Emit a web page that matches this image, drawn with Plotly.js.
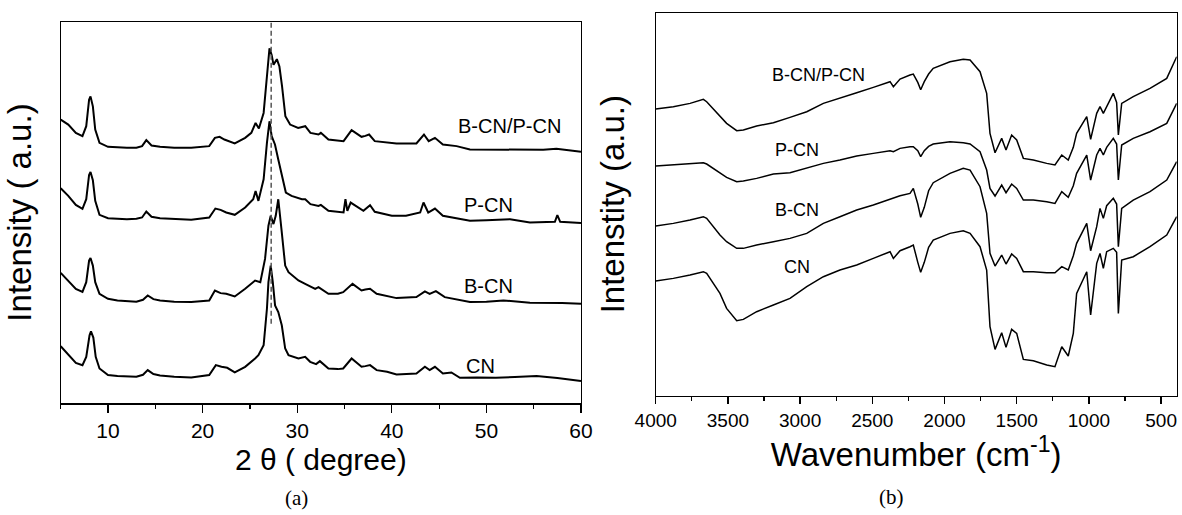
<!DOCTYPE html>
<html>
<head>
<meta charset="utf-8">
<script src="https://cdn.plot.ly/plotly-3.0.1.min.js"></script>
<style>html,body{margin:0;padding:0;background:#fff}#chart{width:1182px;height:515px}</style>
</head>
<body>
<div id="chart"></div>
<script>
// ---------- (a) XRD data: 2θ (degree) vs intensity (a.u., stacked) ----------
var xrdBP_x = [5,5.8,6.6,7.3,7.7,8.0,8.15,8.4,8.65,9.1,10,11,12,13,13.6,14.05,14.6,15.5,17,18.8,20.7,21.3,21.8,22.3,23.4,24.5,25.15,25.6,25.95,26.45,26.8,27.07,27.3,27.5,27.85,28.12,28.4,28.75,29.25,30.1,30.85,31.4,32.25,32.5,33.3,34.2,34.9,35.75,36.8,37.2,37.6,38.2,39.5,40.5,42.6,43.4,43.9,44.56,45.4,46.85,48.26,50,52,54.6,56,57.4,60];
var xrdBP_y = [855,840,815,805,835,915,925,895,825,785,773,771,770,770,775,793,777,773,770,770,775,800,803,795,783,800,815,845,828,875,975,1070,1050,1020,1037,1015,955,865,840,830,835,815,810,815,795,792,790,823,803,806,810,790,785,783,783,810,790,800,780,775,765,765,766,765,764,767,758];

var xrdP_x = [5,5.8,6.6,7.3,7.7,8.0,8.15,8.4,8.65,9.1,10,11,12,13,13.6,14.05,14.6,15.5,17,18.8,20.7,21.35,21.9,22.5,23.4,24.5,25.35,25.6,25.9,26.45,26.8,27.07,27.3,27.65,28.0,28.4,28.8,29.4,30.5,30.85,31.4,32.25,32.5,33.3,34.2,34.9,35.1,35.3,35.65,36.3,37.0,37.7,38.2,40,41.5,43.0,43.35,43.85,44.56,45.4,48.26,50,52.5,54.6,56,57.24,57.5,57.8,60];
var xrdP_y = [648,625,598,586,615,688,697,672,610,568,558,556,555,556,560,578,562,558,555,553,560,587,583,575,568,590,615,640,610,675,785,850,805,780,735,685,635,625,615,615,600,595,598,580,578,575,615,580,605,593,580,597,577,565,565,575,605,575,587,565,550,552,555,545,547,547,567,547,543];

var xrdB_x = [5,5.8,6.6,7.3,7.7,8.0,8.15,8.4,8.65,9.1,10,11,12,13,13.7,14.2,14.8,15.5,17,18.8,20.7,21.3,21.9,22.5,23.4,24.5,25.55,26.1,26.6,26.96,27.2,27.49,27.73,28.0,28.37,28.73,29.08,30.13,30.84,31.9,32.25,33.3,34.3,34.86,35.85,36.8,37.2,37.7,38.4,39.5,40.5,42.6,43.5,44.0,44.66,45.6,48.26,50,51.8,54.6,56,58,60];
var xrdB_y = [393,370,345,336,365,430,438,415,365,330,315,310,307,306,312,325,314,310,306,305,310,340,332,330,322,345,370,365,435,535,565,540,565,615,515,415,395,370,360,345,350,330,330,335,360,340,343,345,330,322,317,320,337,330,338,320,305,306,310,303,303,302,300];

var xrdCN_x = [5,5.8,6.6,7.3,7.7,8.05,8.2,8.45,8.7,9.1,10,11,12,13,13.7,14.2,14.8,15.5,17,18.8,20.7,21.4,22.0,22.6,23.4,24.5,25.55,25.9,26.45,26.8,26.96,27.2,27.42,27.66,28.0,28.37,28.73,29.08,30.13,30.84,31.37,32.0,32.4,33.3,34.3,34.86,35.75,36.8,37.2,37.7,38.4,39.5,40.5,42.6,43.5,44.0,44.56,45.4,46.3,47.2,49,51,53,55.3,57.5,60];
var xrdCN_y = [172,148,122,115,140,205,217,198,140,105,85,82,80,80,86,100,88,84,80,78,85,115,110,107,93,110,135,145,175,285,365,415,365,295,275,235,165,145,135,140,125,118,127,105,103,105,135,110,112,115,100,95,87,90,110,100,110,90,93,77,78,77,79,82,76,67];

var xrdLabels = ["B-CN/P-CN", "P-CN", "B-CN", "CN"];
var xrdLabelX = [52.4, 50.27, 50.2, 49.4];
var xrdLabelY = [837, 598, 355, 113];
var xrdGuideX = 27.25;          // dashed reference line position
var xrdGuideY = [240, 1150];    // from / to
var xrdTicks = [10, 20, 30, 40, 50, 60];

// ---------- (b) FTIR data: wavenumber (cm-1) vs intensity (a.u., stacked) ----------
var ftirW = [4000,3878,3762,3670,3647,3555,3509,3439,3393,3301,3185,3070,2954,2839,2724,2608,2493,2377,2354,2308,2239,2216,2185,2165,2140,2110,2078,1962,1870,1823,1754,1708,1685,1650,1604,1574,1535,1500,1454,1385,1292,1235,1188,1143,1108,1085,1015,988,946,923,900,877,831,808,796,773,693,577,461,392];
var ftirBP = [860,867,877,889,882,837,817,795,797,809,819,835,852,877,892,909,925,942,927,950,962,965,940,918,942,965,982,1002,1009,1007,972,907,787,729,772,737,782,767,712,707,697,692,722,707,745,787,837,769,847,867,847,867,907,880,782,877,897,922,952,1017];
var ftirP  = [689,692,697,699,695,667,655,642,644,652,665,669,682,697,707,719,727,735,732,742,747,747,735,717,735,748,755,762,759,755,732,677,622,599,632,609,635,622,587,587,582,577,612,595,630,667,722,647,722,742,722,745,772,755,647,752,772,792,817,877];
var ftirB  = [509,517,527,537,532,482,462,442,442,452,462,472,487,517,537,557,572,589,593,600,607,622,575,535,565,615,639,667,682,677,627,547,427,389,422,395,425,412,372,372,369,369,387,377,420,457,517,435,507,562,532,570,592,575,447,562,587,612,647,702];
var ftirCN = [344,352,362,372,367,307,262,225,229,252,272,292,327,357,377,392,412,432,412,435,447,452,400,370,400,445,467,487,495,487,447,377,207,139,189,145,199,187,109,105,92,87,147,119,187,307,372,242,397,427,382,432,442,430,247,407,417,447,482,537];

var ftirLabels = ["B-CN/P-CN", "P-CN", "B-CN", "CN"];
var ftirLabelX = [2874, 3024, 3024, 3024];
var ftirLabelY = [962, 737, 557, 387];

// ---------- drawing ----------
var SANS = "Liberation Sans, Arial, sans-serif";
var SERIF = "Liberation Serif, Times New Roman, serif";
var W = 1182, H = 515;

function line(x, y, xa, ya, w) {
  return {x: x, y: y, xaxis: xa, yaxis: ya, type: "scatter", mode: "lines",
          line: {color: "#000", width: w}, hoverinfo: "skip"};
}

var traces = [
  line(xrdBP_x, xrdBP_y, "x", "y", 2),
  line(xrdP_x, xrdP_y, "x", "y", 2),
  line(xrdB_x, xrdB_y, "x", "y", 2),
  line(xrdCN_x, xrdCN_y, "x", "y", 2),
  line(ftirW, ftirBP, "x2", "y2", 1.5),
  line(ftirW, ftirP, "x2", "y2", 1.5),
  line(ftirW, ftirB, "x2", "y2", 1.5),
  line(ftirW, ftirCN, "x2", "y2", 1.5),
  {x: [xrdGuideX, xrdGuideX], y: xrdGuideY, xaxis: "x", yaxis: "y", type: "scatter", mode: "lines",
   line: {color: "#555", width: 1.5, dash: "5px,3px"}, hoverinfo: "skip"}
];

var annotations = [];
xrdLabels.forEach(function (t, i) {
  annotations.push({text: t, x: xrdLabelX[i], y: xrdLabelY[i], xref: "x", yref: "y",
    showarrow: false, font: {family: SANS, size: 20, color: "#000"}});
});
ftirLabels.forEach(function (t, i) {
  annotations.push({text: t, x: ftirLabelX[i], y: ftirLabelY[i], xref: "x2", yref: "y2",
    showarrow: false, font: {family: SANS, size: 18, color: "#000"}});
});
annotations.push({text: "(a)", x: 296 / W, y: 1 - 498 / H, xref: "paper", yref: "paper",
  xanchor: "center", yanchor: "middle",
  showarrow: false, font: {family: SERIF, size: 21, color: "#000"}});
annotations.push({text: "(b)", x: 891.5 / W, y: 1 - 497 / H, xref: "paper", yref: "paper",
  xanchor: "center", yanchor: "middle",
  showarrow: false, font: {family: SERIF, size: 21, color: "#000"}});

var axisCommon = {showline: true, linecolor: "#000", linewidth: 1.2, mirror: true,
  showgrid: false, zeroline: false};

var layout = {
  width: W, height: H,
  margin: {l: 0, r: 0, t: 0, b: 0},
  paper_bgcolor: "#fff", plot_bgcolor: "#fff",
  showlegend: false,
  xaxis: Object.assign({}, axisCommon, {
    domain: [60.7 / W, 581 / W], range: [5, 60],
    tickmode: "array", tickvals: xrdTicks,
    ticks: "outside", ticklen: 8, tickwidth: 1.2, tickcolor: "#000",
    minor: {dtick: 5, tick0: 0, ticks: "outside", ticklen: 4, tickwidth: 1.2, tickcolor: "#000"},
    tickfont: {family: SANS, size: 21, color: "#000"},
    title: {text: "2 \u03b8 ( degree)", font: {family: SANS, size: 30, color: "#000"}, standoff: 8}
  }),
  yaxis: Object.assign({}, axisCommon, {
    domain: [1 - 403.3 / H, 1 - 21.7 / H], range: [0, 1150],
    showticklabels: false, ticks: "",
    title: {text: "Intensity ( a.u.)", font: {family: SANS, size: 33, color: "#000"}, standoff: 18}
  }),
  xaxis2: Object.assign({}, axisCommon, {
    domain: [655.7 / W, 1176.7 / W], range: [4000, 392], anchor: "y2",
    dtick: 500, tick0: 0,
    ticks: "outside", ticklen: 7, tickwidth: 1.2, tickcolor: "#000",
    minor: {dtick: 250, tick0: 0, ticks: "outside", ticklen: 4, tickwidth: 1.2, tickcolor: "#000"},
    tickfont: {family: SANS, size: 19, color: "#000"},
    title: {text: "Wavenumber (cm<sup>-1</sup>)", font: {family: SANS, size: 33, color: "#000"}, standoff: 8}
  }),
  yaxis2: Object.assign({}, axisCommon, {
    domain: [1 - 395.7 / H, 1 - 12.7 / H], range: [0, 1149], anchor: "x2",
    showticklabels: false, ticks: "",
    title: {text: "Intenstity (a.u.)", font: {family: SANS, size: 33, color: "#000"}, standoff: 20}
  }),
  annotations: annotations
};

Plotly.newPlot("chart", traces, layout, {staticPlot: true, displayModeBar: false});
</script>
</body>
</html>
